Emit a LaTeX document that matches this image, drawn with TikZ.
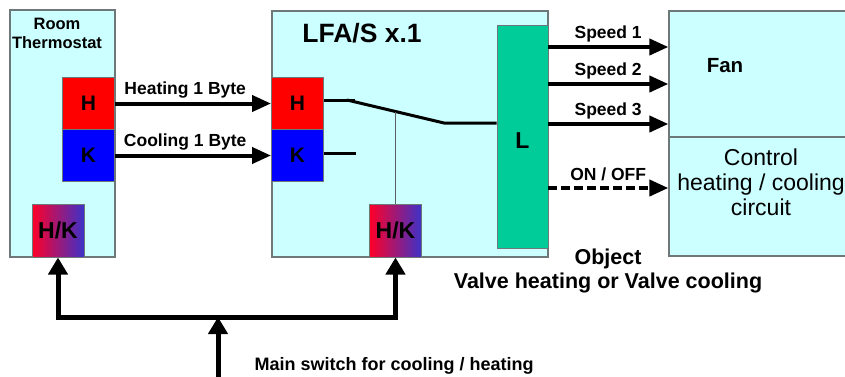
\documentclass[tikz,border=0pt]{standalone}
\usepackage{fontspec}
\setmainfont{Liberation Sans}
\usetikzlibrary{arrows.meta,positioning,calc}
\definecolor{boxcyan}{RGB}{204,255,255}
\definecolor{boxline}{RGB}{110,120,120}
\definecolor{hkred}{RGB}{255,0,40}
\definecolor{hkblue}{RGB}{60,50,200}
\definecolor{lgreen}{RGB}{0,204,153}

\begin{document}
\begin{tikzpicture}[x=1pt,y=-1pt,
    unit/.style={draw=boxline,line width=1.3pt,fill=boxcyan,inner sep=0pt},
    hbox/.style={draw=boxline,line width=1pt,fill=red,inner sep=0pt,minimum width=52pt,minimum height=52pt,font=\bfseries\fontsize{21}{23}\selectfont},
    kbox/.style={hbox,fill=blue},
    hkbox/.style={draw=boxline,line width=1pt,inner sep=0pt,minimum width=52pt,minimum height=53pt,left color=hkred,right color=hkblue,font=\bfseries\fontsize{23}{25}\selectfont},
    sig/.style={line width=4pt,-{Triangle[length=19pt,width=16pt]}},
    bus/.style={line width=5pt,-{Triangle[length=17pt,width=19pt]}},
    lbl/.style={font=\bfseries\fontsize{17.5}{19}\selectfont},
    wire/.style={line width=3pt}]
    \useasboundingbox (0,0) rectangle (845,376);

    % units
    \node[unit,minimum width=105pt,minimum height=247pt] (room) at (62.5,133.5) {};
    \node[font=\bfseries\fontsize{16.5}{19}\selectfont,align=center] (roomtxt) at (57,33) {Room\\Thermostat};
    \node[unit,minimum width=276pt,minimum height=246pt] (lfa) at (410,134) {};
    \node[font=\bfseries\fontsize{26.5}{28}\selectfont] (lfatxt) at (362,33) {LFA/S x.1};
    \node[unit,minimum width=206pt,minimum height=126pt] (fan) at (772,74) {};
    \node[unit,minimum width=206pt,minimum height=119pt] (ctrl) at (772,196.5) {};
    \node[font=\bfseries\fontsize{20.5}{22}\selectfont] (fantxt) at (725,66) {Fan};
    \node[font=\fontsize{23}{25}\selectfont,align=center] (ctrltxt) at (761,182) {Control\\heating / cooling\\circuit};

    % objects
    \node[hbox] (h1) at (88.5,103.5) {H};
    \node[kbox] (k1) at (88.5,155.5) {K};
    \node[hbox] (h2) at (297.5,103.5) {H};
    \node[kbox] (k2) at (297.5,155.5) {K};
    \node[hkbox] (hk1) at (58,230.5) {H/K};
    \node[hkbox] (hk2) at (395.5,230.5) {H/K};
    \node[draw=boxline,line width=1pt,fill=lgreen,inner sep=0pt,minimum width=51pt,minimum height=223pt] (L) at (522.5,136.5) {};
    \node[font=\bfseries\fontsize{23}{25}\selectfont] (Ltxt) at (522.5,141) {L};

    \draw[sig] (h1.east) -- node[lbl,above,pos=0.45] {Heating 1 Byte} (h2.west);
    \draw[sig] (k1.east) -- node[lbl,above,pos=0.45] {Cooling 1 Byte} (k2.west);

    % switch inside the actuator
    \coordinate (pivot) at (347,100);
    \coordinate (sw) at (444,123);
    \draw[wire] ($(h2.east)+(0,-3)$) -- (355,100.5);
    \draw[wire] (pivot) -- (sw) -- (sw -| L.west);
    \draw[wire] ($(k2.east)+(0,-2.5)$) -- ++(32,0);
    \path (pivot) -- (sw) coordinate[pos=0.5] (tap);
    \draw[boxline!80!black,line width=1.3pt] (tap) -- (hk2.north);

    % outputs
    \coordinate (s1) at (548,47);
    \coordinate (s2) at (548,84);
    \coordinate (s3) at (548,124);
    \coordinate (s4) at (548,188);
    \draw[sig] (s1) -- node[lbl,above] {Speed 1} (s1 -| fan.west);
    \draw[sig] (s2) -- node[lbl,above] {Speed 2} (s2 -| fan.west);
    \draw[sig] (s3) -- node[lbl,above] {Speed 3} (s3 -| fan.west);
    \draw[sig,dash pattern=on 9pt off 4pt] (s4) -- node[lbl,above=2pt,font=\bfseries\fontsize{17.5}{19}\selectfont] {ON / OFF} (s4 -| ctrl.west);

    \node[font=\bfseries\fontsize{21.5}{24}\selectfont,align=center] (objtxt) at (608,271) {Object\\Valve heating or Valve cooling};

    % main switch
    \coordinate (src) at (218,380);
    \coordinate (junc) at (218,317);
    \draw[bus] (src) -- (junc);
    \draw[bus] (junc) -| (hk1.south);
    \draw[bus] (junc) -| (hk2.south);
    \node[font=\bfseries\fontsize{18}{20}\selectfont,anchor=west] (maintxt) at (251,366) {Main switch for cooling / heating};
\end{tikzpicture}
\end{document}
